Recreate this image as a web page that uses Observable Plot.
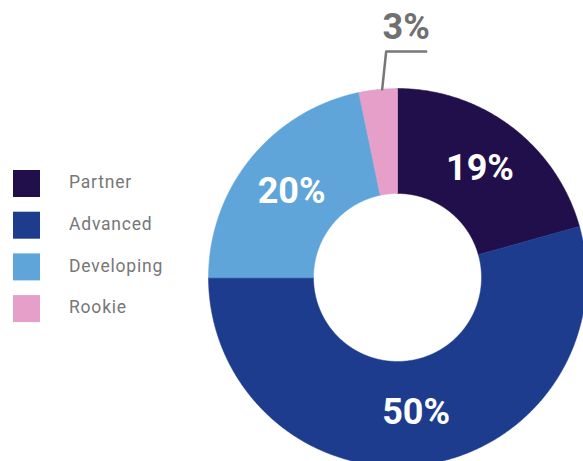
<!DOCTYPE html>
<html>
<head>
<meta charset="utf-8">
<script src="https://cdn.jsdelivr.net/npm/d3@7"></script>
<script src="https://cdn.jsdelivr.net/npm/@observablehq/plot@0.6"></script>
<style>
  html, body { margin: 0; padding: 0; background: #fff; }
  #chart svg { display: block; }
  .legend-text text { letter-spacing: 0.8px; }
</style>
</head>
<body>
<div id="chart"></div>
<script>
// ---- data ----
const categories = ["Partner", "Advanced", "Developing", "Rookie"];
const values = [19, 50, 20, 3];
const valueLabels = ["19%", "50%", "20%", "3%"];
const colors = ["#200f4b", "#1d3c8e", "#60a5d9", "#e59fc8"];

// ---- layout ----
const W = 583, H = 461;
const cx = 397, cy = 277, R = 189, r = 84;

const pie = d3.pie().sort(null).startAngle(0).endAngle(2 * Math.PI)(values);
const pt = (rad, a) => [cx + rad * Math.sin(a), cy - rad * Math.cos(a)];

// slice polygons
const slicePts = [];
pie.forEach((p, i) => {
  const n = Math.max(8, Math.ceil((p.endAngle - p.startAngle) * 120));
  const ring = [];
  for (let k = 0; k <= n; k++) ring.push(pt(R, p.startAngle + (p.endAngle - p.startAngle) * k / n));
  for (let k = n; k >= 0; k--) ring.push(pt(r, p.startAngle + (p.endAngle - p.startAngle) * k / n));
  ring.forEach(([x, y]) => slicePts.push({cat: categories[i], x, y}));
});

// inside labels (all but the tiny slice) at the slice centroid
const midR = (R + r) / 2;
const inside = pie.map((p, i) => {
  const a = (p.startAngle + p.endAngle) / 2;
  const [x, y] = pt(midR, a);
  return {label: valueLabels[i], x, y, v: values[i]};
}).filter(d => d.v >= 5);

// outside label for the small slice with a leader line
const smallIdx = values.findIndex(v => v < 5);
const sp = pie[smallIdx];
const sa = (sp.startAngle + sp.endAngle) / 2;
const s0 = pt(R, sa);
const leader = [
  {x: s0[0] + 4, y: s0[1]},
  {x: s0[0] + 8, y: cy - R - 37},
  {x: s0[0] + 48, y: cy - R - 37}
];
const outside = [{label: valueLabels[smallIdx], x: s0[0] + 28, y: cy - R - 61}];

// legend
const legend = categories.map((c, i) => ({cat: c, i}));
const legY = i => 183.5 + i * 41.7;

const chart = Plot.plot({
  width: W,
  height: H,
  margin: 0,
  x: {domain: [0, W], range: [0, W], axis: null},
  y: {domain: [0, H], range: [0, H], axis: null},
  color: {domain: categories, range: colors},
  style: {fontFamily: "Roboto, 'Open Sans', sans-serif", background: "#fff"},
  marks: [
    Plot.line(slicePts, {x: "x", y: "y", z: "cat", fill: "cat", stroke: "cat", strokeWidth: 0.5, curve: "linear-closed"}),
    Plot.text(inside, {x: "x", y: "y", text: "label", fill: "white", fontSize: 36, fontWeight: "bold"}),
    Plot.line(leader, {x: "x", y: "y", stroke: "#777", strokeWidth: 2.5}),
    Plot.text(outside, {x: "x", y: "y", text: "label", fill: "#707070", fontSize: 36, fontWeight: "bold"}),
    Plot.rect(legend, {x1: () => 13, x2: () => 40, y1: d => legY(d.i) - 13.5, y2: d => legY(d.i) + 13.5, fill: "cat"}),
    Plot.text(legend, {x: () => 68.5, y: d => legY(d.i) - 1.5, text: "cat", textAnchor: "start", fill: "#777", fontSize: 17.5, className: "legend-text"})
  ]
});
document.getElementById("chart").appendChild(chart);
</script>
</body>
</html>
